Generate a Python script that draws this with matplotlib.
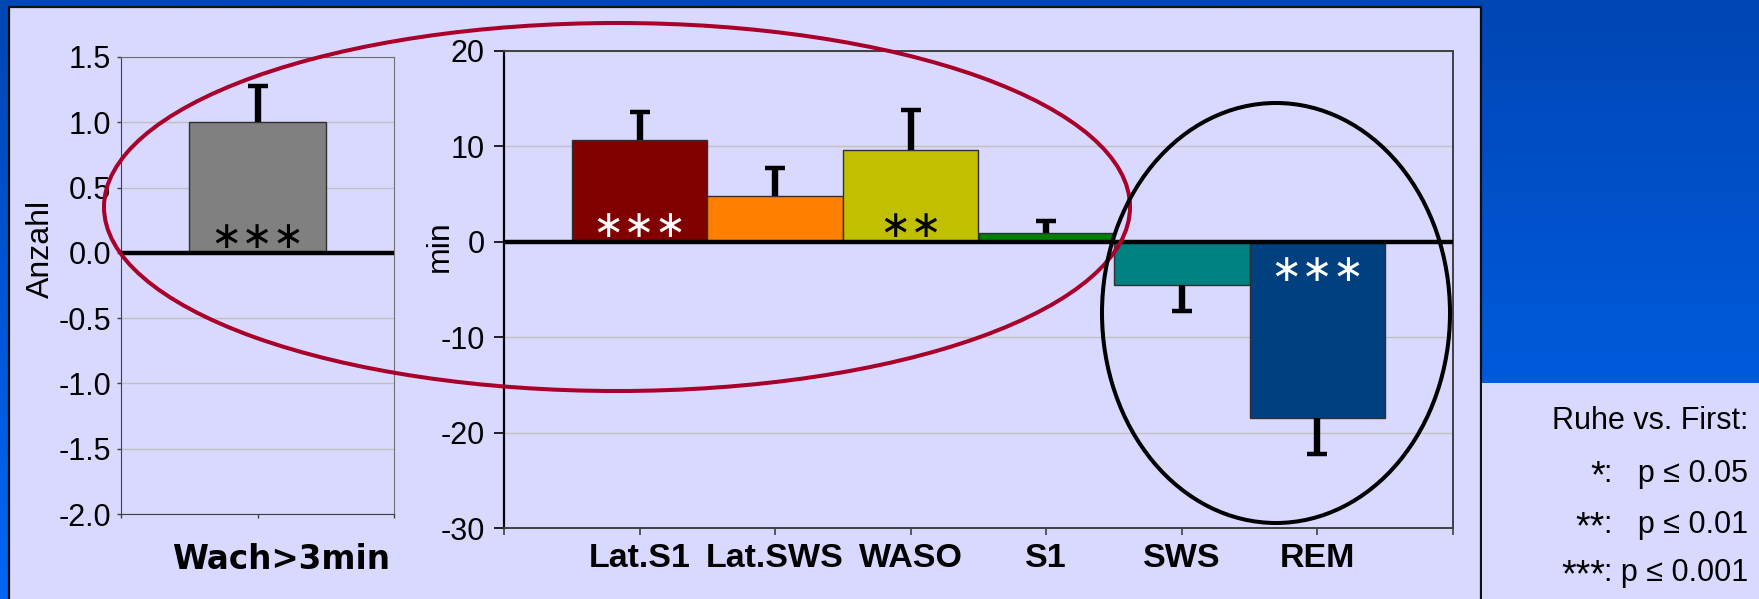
import numpy as np
import matplotlib
matplotlib.use('Agg')
import matplotlib.pyplot as plt
from matplotlib.patches import Rectangle, Ellipse
from matplotlib.colors import LinearSegmentedColormap
from matplotlib.transforms import ScaledTranslation

plt.rcParams['font.family'] = ['Liberation Sans', 'DejaVu Sans']
plt.rcParams['axes.unicode_minus'] = False

# Data
left_cat = ['Wach>3min']
left_val = [1.0]
left_err = [0.28]
left_stars = ['∗∗∗']

right_cat = ['Lat.S1', 'Lat.SWS', 'WASO', 'S1', 'SWS', 'REM']
right_val = [10.7, 4.8, 9.65, 0.9, -4.5, -18.5]
right_err = [2.9, 2.9, 4.15, 1.3, 2.8, 3.7]
right_stars = ['∗∗∗', '', '∗∗', '', '', '∗∗∗']

right_colors = ['#800000', '#FF8000', '#C0C000', '#008000', '#008080', '#00407F']
star_colors = ['white', 'black', 'black', 'black', 'black', 'white']

legend_title = 'Ruhe vs. First:'
legend_stars = ['*', '**', '***']
legend_p = [':   p ≤ 0.05', ':   p ≤ 0.01', ': p ≤ 0.001']

W, H = 1759, 599
panel = '#D9D9FF'

fig = plt.figure(figsize=(W / 100, H / 100), dpi=100)

# background: blue gradient, lavender panel
bg = fig.add_axes([0, 0, 1, 1], zorder=-10)
bg.axis('off')
cmap = LinearSegmentedColormap.from_list('bg', ['#0046B4', '#0066F4'])
bg.imshow(np.linspace(0, 1, 256).reshape(-1, 1), aspect='auto', cmap=cmap,
          extent=[0, W, H, 0])
bg.set_xlim(0, W)
bg.set_ylim(H, 0)
bg.add_patch(Rectangle((9, 6.5), 1472, 610, fc=panel, ec='#101010', lw=1.6))
bg.add_patch(Rectangle((1482, 383), 290, 230, fc=panel, ec='none'))


def draw_bars(ax, vals, errs, colors, stars, scolors):
    x = np.arange(1, len(vals) + 1)
    ax.bar(x, vals, width=1.0, color=colors, edgecolor='#303030', lw=1.0, zorder=2)
    ax.axhline(0, color='black', lw=3.2, zorder=4, solid_capstyle='butt')
    tops = [v + e if v >= 0 else v - e for v, e in zip(vals, errs)]
    ax.vlines(x, vals, tops, color='black', lw=4.6, zorder=3)
    ax.plot(x, tops, ls='none', marker='_', ms=14, mew=3.2, color='black', zorder=3)
    for xi, v, s, c in zip(x, vals, stars, scolors):
        if not s:
            continue
        off = 10.5 if v >= 0 else -21
        ax.annotate(s, (xi, 0), xytext=(0, off), textcoords='offset points',
                    ha='center', va='center', fontsize=27, color=c,
                    family='DejaVu Sans', zorder=5)


# left axes: Anzahl
ax1 = fig.add_axes([121 / W, 1 - 514 / H, 273 / W, 457 / H])
ax1.set_facecolor(panel)
draw_bars(ax1, left_val, left_err, ['#808080'], left_stars, ['black'])
ax1.set_xlim(0, 2)
ax1.set_ylim(-2.0, 1.5)
ax1.set_yticks(np.arange(-2.0, 1.51, 0.5))
ax1.yaxis.set_major_formatter(matplotlib.ticker.FormatStrFormatter('%.1f'))
ax1.set_xticks([0, 1, 2])
ax1.set_xticklabels(['', left_cat[0], ''])
ax1.tick_params(axis='y', length=3, width=1, pad=4, labelsize=22, color='#404040')
ax1.tick_params(axis='x', length=3, width=1, pad=18, labelsize=23.5, color='#404040')
for lab in ax1.get_xticklabels():
    lab.set_family('DejaVu Sans')
    lab.set_fontweight('bold')
    lab.set_transform(lab.get_transform() + ScaledTranslation(0.24, 0, fig.dpi_scale_trans))
ax1.yaxis.grid(True, color='#C0C0C0', lw=1.0, zorder=0)
ax1.set_axisbelow(True)
for s in ['top', 'right']:
    ax1.spines[s].set_color('#707070')
for s in ['left', 'bottom']:
    ax1.spines[s].set_color('#404040')
ax1.set_ylabel('Anzahl', fontsize=23)
ax1.yaxis.set_label_coords(-0.24, 0.58)

# right axes: min
ax2 = fig.add_axes([504 / W, 1 - 528 / H, 949 / W, 477 / H])
ax2.set_facecolor(panel)
draw_bars(ax2, right_val, right_err, right_colors, right_stars, star_colors)
ax2.set_xlim(0, len(right_cat) + 1)
ax2.set_ylim(-30, 20)
ax2.set_yticks(np.arange(-30, 21, 10))
ax2.set_xticks(np.arange(0, len(right_cat) + 2))
ax2.set_xticklabels([''] + right_cat + [''])
ax2.tick_params(axis='y', length=7, width=1.2, pad=7, labelsize=22)
ax2.tick_params(axis='x', length=5, width=1.2, pad=5.5, labelsize=24.5, color='#404040')
for lab in ax2.get_xticklabels():
    lab.set_fontweight('bold')
ax2.yaxis.grid(True, color='#C0C0C0', lw=1.0, zorder=0)
ax2.set_axisbelow(True)
ax2.spines['left'].set_linewidth(1.6)
for s in ['top', 'right', 'bottom']:
    ax2.spines[s].set_color('#404040')
    ax2.spines[s].set_linewidth(1.4)
ax2.set_ylabel('min', fontsize=23)
ax2.yaxis.set_label_coords(-0.052, 0.59)

# hand-drawn highlight ellipses
fig.add_artist(Ellipse((617, 207), 1026, 368, transform=bg.transData,
                       fill=False, ec='#A8002A', lw=2.9, zorder=20))
fig.add_artist(Ellipse((1276, 313), 348, 420, transform=bg.transData,
                       fill=False, ec='black', lw=2.9, zorder=20))

# significance legend (baselines in pixels)
bg.text(1748, 429, legend_title, ha='right', va='baseline', fontsize=22)
renderer = fig.canvas.get_renderer()
for st, ptxt, yb in zip(legend_stars, legend_p, [482, 533, 581]):
    t = bg.text(1748, yb, ptxt, ha='right', va='baseline', fontsize=22)
    x0 = bg.transData.inverted().transform(t.get_window_extent(renderer))[0, 0]
    bg.text(x0 + 1, yb + 5, st, ha='right', va='baseline', fontsize=27)

fig.savefig('out.png', dpi=100)
